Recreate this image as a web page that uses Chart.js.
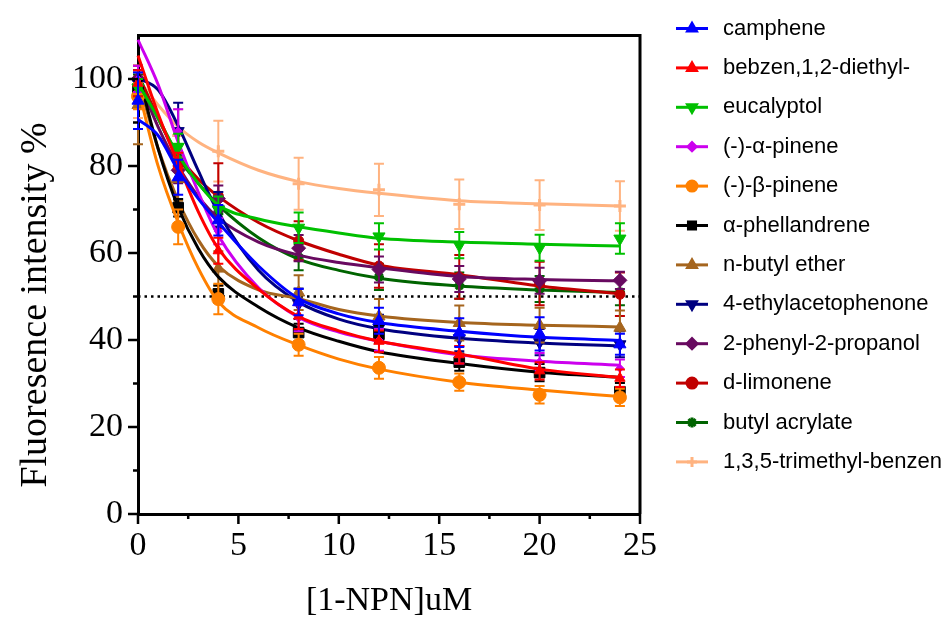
<!DOCTYPE html>
<html>
<head>
<meta charset="utf-8">
<script src="https://cdn.jsdelivr.net/npm/chart.js@4.4.1/dist/chart.umd.min.js"></script>
<style>
  html, body { margin: 0; padding: 0; background: #fff; }
  #chart { display: block; }
</style>
</head>
<body>
<canvas id="chart" width="951" height="623"></canvas>
<script>
// 1-NPN doses where the measurements were taken
const doses = [0, 2, 4, 8, 12, 16, 20, 24];
const fitDoses = [0, 1, 2, 3, 4, 6, 8, 10, 12, 16, 20, 24];

const compounds = [
  'camphene', 'bebzen,1,2-diethyl-', 'eucalyptol', '(-)-α-pinene', '(-)-β-pinene',
  'α-phellandrene', 'n-butyl ether', '4-ethylacetophenone', '2-phenyl-2-propanol',
  'd-limonene', 'butyl acrylate', '1,3,5-trimethyl-benzen'
];

// mean fluorescence intensity (%) per compound, one row per compound
const meanValues = [
  [95, 77.4, 67.5, 48.7, 44.4, 41.7, 41.4, 39.0],
  [99, 80, 60.5, 45.5, 39.7, 36.6, 32.9, 31.2],
  [98, 84.4, 70, 65.8, 63.8, 61.8, 61.2, 63.3],
  [100, 88, 65, 45, 40, 36.6, 35, 33.5],
  [96, 66, 49.4, 38.9, 33.6, 30.3, 27.4, 26.8],
  [97.7, 70.4, 50.6, 41.7, 41.3, 34.9, 32.5, 28.1],
  [94, 77, 56.4, 50.9, 45.4, 43.9, 43.4, 42.8],
  [99, 88, 70, 48.3, 42.8, 40.4, 39.5, 39],
  [100, 79, 72.5, 61.1, 56.2, 54.0, 53.6, 53.7],
  [100, 80, 73.1, 62.8, 57, 54.5, 53, 50.5],
  [99, 82, 69, 59, 54.5, 52.5, 51.7, 51],
  [97, 87, 83.4, 75.9, 74.5, 71.2, 71.0, 70.8]
];

// error (±) per point
const sdValues = [
  [6.5, 4, 3.5, 3, 3, 3.3, 3.8, 2.4],
  [3, 3, 3, 3, 2.5, 2, 2, 2],
  [2, 3, 3, 3.5, 3, 3, 3, 3.5],
  [3, 5, 3, 3, 2.5, 2, 2, 2],
  [3, 4, 3.5, 2.5, 2.5, 2, 2, 2],
  [2, 2, 2, 2, 2, 2, 2, 2],
  [9, 5, 4, 4, 4, 4, 4, 4],
  [3, 6.5, 4, 3.5, 3, 3, 3, 3],
  [2, 3, 3, 3, 3, 3, 3, 2],
  [3, 3, 7.5, 4.5, 5, 5, 5, 5],
  [2, 3, 3, 3, 3, 3, 3, 3],
  [6, 6, 7, 6, 6, 5.7, 5.7, 5.7]
];

// fitted curve values at fitDoses
const fitValues = [
  [90.7, 87, 79, 72.5, 67, 57, 49.5, 46, 44, 42, 40.6, 39.9],
  [105.4, 92, 80.5, 69.5, 61, 51.7, 45.4, 42.1, 39.7, 36.8, 33.3, 31.4],
  [99, 91, 82.5, 76, 71, 67.8, 66, 64.6, 63.4, 62.5, 62, 61.6],
  [109, 98.7, 85.5, 74, 64, 52, 45.2, 41.8, 39.7, 36.6, 35.1, 34.2],
  [98, 80, 67, 56.5, 48.8, 42.8, 38.8, 35.6, 33.3, 30.3, 28.5, 27],
  [101.7, 84, 70.5, 61, 54.5, 47.6, 42.8, 39.7, 37.3, 34.6, 32.6, 31.4],
  [100, 84, 72, 63, 57, 51.5, 49.5, 47, 45.5, 44, 43.4, 43],
  [100.2, 97.5, 89.2, 78.9, 69.3, 56, 48.7, 44.8, 42.6, 40.4, 39.3, 38.6],
  [100, 89, 80, 73, 68, 62.5, 59.5, 57.8, 56.6, 54.6, 53.9, 53.6],
  [101, 91, 82.5, 77, 73, 67, 62.8, 59.7, 57.2, 55, 52.4, 50.6],
  [101, 91, 82, 76, 71, 63.5, 58.6, 56, 54.2, 52.4, 51.5, 50.9],
  [100, 94, 89, 85.5, 83, 79, 76.4, 74.8, 73.7, 72, 71.3, 70.8]
];

const halfLine = 50;
const xTickLabels = [0, 5, 10, 15, 20, 25];
const yTickLabels = [0, 20, 40, 60, 80, 100];

// styling
const colors = ['#0000FF', '#FF0000', '#00C000', '#CC00EE', '#FF8000', '#000000',
  '#A5651E', '#000080', '#680A60', '#C00000', '#006400', '#FFB380'];
const markers = [
  { style: 'triangle', rot: 0, r: 7 },
  { style: 'triangle', rot: 0, r: 6 },
  { style: 'triangle', rot: 180, r: 7 },
  { style: 'rectRot', rot: 0, r: 4 },
  { style: 'circle', rot: 0, r: 6.5 },
  { style: 'rect', rot: 0, r: 7.5 },
  { style: 'triangle', rot: 0, r: 7 },
  { style: 'triangle', rot: 180, r: 7 },
  { style: 'rectRot', rot: 0, r: 7 },
  { style: 'circle', rot: 0, r: 5 },
  { style: 'star', rot: 0, r: 5 },
  { style: 'cross', rot: 0, r: 6 }
];
const serif = '"Liberation Serif", "Times New Roman", serif';
const sans = '"Liberation Sans", Arial, sans-serif';

const datasets = [];
compounds.forEach((name, i) => {
  datasets.push({
    label: name,
    kind: 'pts',
    series: i,
    data: doses.map((d, k) => ({ x: d, y: meanValues[i][k] })),
    showLine: false,
    pointStyle: markers[i].style,
    pointRotation: markers[i].rot,
    pointRadius: markers[i].r,
    pointBorderWidth: markers[i].style === 'cross' || markers[i].style === 'star' ? 3 : 1,
    backgroundColor: colors[i],
    borderColor: colors[i],
    clip: false
  });
  datasets.push({
    label: name + ' fit',
    kind: 'fit',
    data: fitDoses.map((d, k) => ({ x: d, y: fitValues[i][k] })),
    borderColor: colors[i],
    borderWidth: 3,
    pointRadius: 0,
    cubicInterpolationMode: 'monotone',
    fill: false,
    clip: 6
  });
});
datasets.push({
  label: '50%',
  kind: 'ref',
  data: [{ x: 0, y: halfLine }, { x: 25, y: halfLine }],
  borderColor: '#000',
  borderWidth: 2.5,
  borderDash: [2.5, 4],
  pointRadius: 0,
  fill: false
});

const errorBars = {
  id: 'errorBars',
  beforeDatasetDraw(chart, args) {
    const ds = chart.data.datasets[args.index];
    if (ds.kind !== 'pts') return;
    const i = ds.series;
    const { x, y } = chart.scales;
    const ctx = chart.ctx;
    ctx.save();
    ctx.strokeStyle = colors[i];
    ctx.lineWidth = 2;
    doses.forEach((d, k) => {
      const px = x.getPixelForValue(d);
      const top = y.getPixelForValue(meanValues[i][k] + sdValues[i][k]);
      const bot = y.getPixelForValue(meanValues[i][k] - sdValues[i][k]);
      ctx.beginPath();
      ctx.moveTo(px, top); ctx.lineTo(px, bot);
      ctx.moveTo(px - 5, top); ctx.lineTo(px + 5, top);
      ctx.moveTo(px - 5, bot); ctx.lineTo(px + 5, bot);
      ctx.stroke();
    });
    ctx.restore();
  }
};

const frame = {
  id: 'frame',
  afterDraw(chart) {
    const { ctx, chartArea: a, scales: { x, y } } = chart;
    ctx.save();
    ctx.strokeStyle = '#000';
    ctx.lineWidth = 3;
    ctx.beginPath();
    ctx.moveTo(a.left, a.top); ctx.lineTo(a.right, a.top);
    ctx.moveTo(a.right, a.top - 1.5); ctx.lineTo(a.right, a.bottom);
    ctx.stroke();
    // tick marks
    ctx.lineWidth = 2.5;
    ctx.beginPath();
    for (let v = 0; v <= 100; v += 10) {
      const py = y.getPixelForValue(v);
      const len = v % 20 === 0 ? 10 : 5;
      ctx.moveTo(a.left - len, py); ctx.lineTo(a.left, py);
    }
    for (let v = 0; v <= 25; v += 2.5) {
      const px = x.getPixelForValue(v);
      const len = v % 5 === 0 ? 10 : 5;
      ctx.moveTo(px, a.bottom); ctx.lineTo(px, a.bottom + len);
    }
    ctx.stroke();
    // y axis title
    ctx.fillStyle = '#000';
    ctx.font = '38px ' + serif;
    ctx.textAlign = 'center';
    ctx.textBaseline = 'middle';
    ctx.translate(36, 305);
    ctx.rotate(-Math.PI / 2);
    ctx.fillText('Fluoresence intensity %', 0, 0);
    ctx.restore();

    // legend
    ctx.save();
    ctx.font = '22px ' + sans;
    ctx.textBaseline = 'middle';
    ctx.textAlign = 'left';
    compounds.forEach((name, i) => {
      const ly = 28.5 + 39.4 * i;
      ctx.strokeStyle = colors[i];
      ctx.lineWidth = 3;
      ctx.beginPath();
      ctx.moveTo(676, ly); ctx.lineTo(708, ly);
      ctx.stroke();
      ctx.fillStyle = colors[i];
      Chart.helpers.drawPoint(ctx, {
        pointStyle: markers[i].style,
        rotation: markers[i].rot,
        radius: Math.min(markers[i].r, 5),
        borderWidth: markers[i].style === 'cross' || markers[i].style === 'star' ? 2 : 1
      }, 692, ly);
      ctx.fillStyle = '#000';
      ctx.fillText(name, 723, ly);
    });
    ctx.restore();
  }
};

new Chart(document.getElementById('chart'), {
  type: 'line',
  data: { datasets },
  options: {
    responsive: false,
    animation: false,
    layout: { padding: { top: 15, right: 311, left: 0, bottom: 0 } },
    plugins: { legend: { display: false }, tooltip: { enabled: false } },
    scales: {
      x: {
        type: 'linear',
        min: 0, max: 25,
        afterFit(s) { s.height = 109; },
        afterBuildTicks(s) { s.ticks = xTickLabels.map(v => ({ value: v })); },
        grid: { display: false, drawTicks: false },
        border: { display: true, color: '#000', width: 3 },
        ticks: { color: '#000', font: { family: serif, size: 34 }, padding: 12, maxRotation: 0 },
        title: { display: true, text: '[1-NPN]uM', color: '#000', font: { family: serif, size: 34 }, padding: { bottom: 2 } }
      },
      y: {
        type: 'linear',
        min: 0, max: 110,
        afterFit(s) { s.width = 138; },
        afterBuildTicks(s) { s.ticks = yTickLabels.map(v => ({ value: v })); },
        grid: { display: false, drawTicks: false },
        border: { display: true, color: '#000', width: 3 },
        ticks: { color: '#000', font: { family: serif, size: 34 }, padding: 15 }
      }
    }
  },
  plugins: [errorBars, frame]
});
</script>
</body>
</html>
